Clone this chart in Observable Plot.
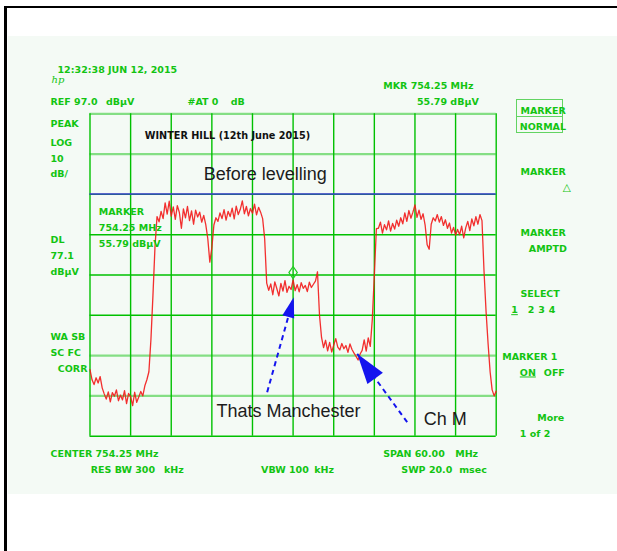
<!DOCTYPE html>
<html>
<head>
<meta charset="utf-8">
<script src="https://cdn.jsdelivr.net/npm/d3@7"></script>
<script src="https://cdn.jsdelivr.net/npm/@observablehq/plot@0.6"></script>
<style>
  html, body { margin: 0; padding: 0; background: #fff; overflow: hidden; }
  #page { position: relative; width: 617px; height: 551px; overflow: hidden; background: #fff; }
  #tint { position: absolute; left: 8px; top: 36px; width: 609px; height: 458px; background: #f4faf5; }
  #topline { position: absolute; left: 4px; top: 5.5px; width: 613px; height: 2.6px; background: #000; }
  #leftline { position: absolute; left: 4px; top: 5.5px; width: 2.7px; height: 546px; background: #000; }
  #chart { position: absolute; left: 0; top: 0; }
  #mbox { position: absolute; left: 516px; top: 99px; width: 45px; height: 31.5px; border: 1.5px solid #62d462; }
  #mbox div { position: absolute; left: 0; top: 15.5px; width: 100%; border-top: 1.5px solid #62d462; }
</style>
</head>
<body>
<div id="page">
  <div id="tint"></div>
  <div id="topline"></div>
  <div id="leftline"></div>
  <div id="mbox"><div></div></div>
  <div id="chart"></div>
</div>
<script>
// ---------------- data ----------------
const xDomainMHz = [724.25, 784.25];          // CENTER 754.25 MHz, SPAN 60 MHz
const yDomainDb = [17, 97];                   // REF 97.0 dBµV, 10 dB/div, 8 div
const gridMHz = [724.25, 730.25, 736.25, 742.25, 748.25, 754.25, 760.25, 766.25, 772.25, 778.25, 784.25];
const gridDb = [97, 87, 77, 67, 57, 47, 37, 27, 17];
const displayLineDb = 77.1;                   // DL 77.1 dBµV

// sweep: 201 points, 0.3 MHz apart, starting at 724.25 MHz
const sweepStartMHz = 724.25;
const sweepStepMHz = 0.3;
const levelDb = [
  33.5, 31.0, 29.8, 31.5, 30.2, 31.8, 29.0, 27.5,
  26.2, 28.0, 25.5, 27.8, 26.9, 28.5, 25.8, 27.2, 26.0, 28.3, 25.1, 27.6, 26.8, 24.6, 27.9, 25.4, 26.7, 28.1, 27.0, 29.5, 31.0,
  33.0, 41.0, 52.0, 64.0,
  71.5, 70.2, 72.8, 71.0, 74.9, 72.1, 75.3, 71.6, 73.9, 70.8,
  74.2, 72.5, 68.6, 73.4, 71.2, 74.0, 70.5, 72.9, 69.6, 73.1,
  71.4, 72.6, 70.1, 71.8, 69.5, 66.0, 60.2, 63.8, 69.4, 71.2,
  70.3, 72.4, 71.0, 73.2, 70.6, 72.8, 71.5, 73.6, 70.9, 74.1,
  72.0, 73.3, 75.4, 72.2, 74.0, 71.7, 73.5, 72.3, 74.6, 71.9,
  73.8, 72.6, 71.0,
  66.0, 55.0,
  53.2, 54.8, 52.1, 55.3, 53.6, 51.8, 54.9, 53.0, 55.6, 52.7,
  54.2, 53.4, 55.8, 53.1, 54.6, 52.8, 55.1, 53.7, 54.4, 52.9,
  55.2, 53.9, 54.7, 55.5, 57.8,
  47.0, 41.5,
  39.0, 40.8, 38.2, 40.3, 37.9, 39.6, 41.2, 39.1, 38.4, 40.0,
  38.7, 39.5, 37.8, 39.9, 38.5, 37.6, 36.8, 35.9, 37.4, 38.3,
  40.9, 38.1, 41.4, 39.3,
  46.0, 57.0, 68.5,
  68.6, 70.1, 67.4, 69.5, 68.2, 70.4, 67.9, 69.8, 68.4, 70.6,
  69.1, 71.2, 69.7, 72.4, 70.3, 73.0, 71.1, 72.6, 74.4, 71.3,
  73.1, 70.8, 72.2, 69.4, 64.5, 63.4, 69.6, 71.2, 70.4, 72.0,
  70.1, 71.5, 69.3, 70.7, 68.6, 69.9, 67.4, 68.8, 66.9, 68.3,
  67.0, 69.1, 66.2, 68.7, 70.3, 68.0, 70.9, 69.2, 71.5, 69.6,
  72.0, 70.5,
  58.0, 48.0, 40.0, 33.0, 28.5, 27.0, 28.2
];
const marker = { f: 754.25, db: 55.79 };

const noteTexts = ["Before levelling", "Thats Manchester", "Ch M"];
const noteMHz   = [741.06, 742.93, 773.55];
const noteDb    = [80.45, 21.73, 19.84];

const chartTitle = "WINTER HILL (12th June 2015)";
const chartTitleAt = { f: 732.34, db: 90.8 };

const markerReadout = ["MARKER", "754.25 MHz", "55.79 dBµV"];
const markerReadoutDb = [71.94, 67.87, 63.83];
const markerReadoutMHz = 725.55;

// arrows: tail (f1, db1) -> tip (f2, db2)
const arrowF1 = [750.42, 771.10];
const arrowDb1 = [27.93, 20.50];
const arrowF2 = [754.35, 763.72];
const arrowDb2 = [51.50, 37.45];

// instrument panel texts
const panelText = [
  "12:32:38 JUN 12, 2015", "MKR 754.25 MHz",
  "REF 97.0", "dBµV", "#AT 0", "dB", "55.79 dBµV",
  "PEAK", "LOG", "10", "dB/", "DL", "77.1", "dBµV", "WA SB", "SC FC", "CORR",
  "CENTER 754.25 MHz", "SPAN 60.00", "MHz",
  "RES BW 300", "kHz", "VBW 100", "kHz", "SWP 20.0", "msec",
  "MARKER", "NORMAL", "MARKER", "MARKER", "AMPTD", "SELECT",
  "1", "2", "3", "4", "MARKER 1", "ON", "OFF", "More", "1 of 2"
];

// ---------------- layout ----------------
const W = 617, H = 551, ML = 89.5, MR = 121.3, MT = 113.3, MB = 115.3;
const panelPos = [
  [57, 72.7], [382.7, 88.3],
  [50, 104.3], [105.5, 104.3], [187, 104.3], [230.3, 104.3], [416.5, 104.3],
  [50, 126], [50, 145.7], [50, 161], [50, 176.7], [50, 242.7], [50, 258.3], [50, 274.3], [50, 339], [50, 355], [57.3, 371],
  [50, 456], [382.7, 456], [454.7, 456],
  [90.2, 472], [163.4, 472], [260.6, 472], [313.8, 472], [400.8, 472], [458.7, 472],
  [520, 113.3], [519.3, 129.3], [520, 174.3], [520, 235.7], [528.3, 251.7], [520, 296.7],
  [510.7, 312.7], [527.3, 312.7], [537.7, 312.7], [548.3, 312.7], [501.7, 359], [519.3, 375], [543.3, 375], [536.7, 420], [519.3, 436]
];

const GREEN_TXT = "#12c412";
const GRID_DARK = "#00c000";
const GRID_LIGHT = "#84de84";
const BLUE = "#1414ee";
const panelFont = { fontFamily: "DejaVu Sans", fontWeight: "bold", fontSize: 9.5 };

const trace = levelDb.map((v, i) => ({ f: sweepStartMHz + i * sweepStepMHz, db: v }));
const notes = noteTexts.map((t, i) => ({ t, f: noteMHz[i], db: noteDb[i] }));
const arrows = arrowF1.map((_, i) => ({ f1: arrowF1[i], db1: arrowDb1[i], f2: arrowF2[i], db2: arrowDb2[i] }));
const readout = markerReadout.map((t, i) => ({ t, f: markerReadoutMHz, db: markerReadoutDb[i] }));

const innerW = W - ML - MR, innerH = H - MT - MB;
const kx = innerW / (xDomainMHz[1] - xDomainMHz[0]);
const ky = innerH / (yDomainDb[1] - yDomainDb[0]);
function headAngle(a) {
  const dx = (a.f2 - a.f1) * kx, dy = -(a.db2 - a.db1) * ky;
  return Math.atan2(dx, -dy) * 180 / Math.PI;
}
function headSymbol(ratio) {
  return { draw(ctx, size) {
    const k = Math.sqrt(size / Math.PI);
    ctx.moveTo(0, 0); ctx.lineTo(-ratio * k, 2 * k); ctx.lineTo(ratio * k, 2 * k); ctx.closePath();
  } };
}
const diamondSymbol = { draw(ctx) {
  ctx.moveTo(0, -1.2); ctx.lineTo(4.2, -7.3); ctx.lineTo(0, -13.4); ctx.lineTo(-4.2, -7.3); ctx.closePath();
} };

const lightDb = [97, 87, 37, 27];

const panelMarks = panelText.map((t, i) => Plot.text([t], {
  text: d => d, frameAnchor: "top-left",
  dx: panelPos[i][0] - ML, dy: panelPos[i][1] - MT,
  textAnchor: "start", lineAnchor: "bottom", fill: GREEN_TXT, ...panelFont
}));

const plot = Plot.plot({
  width: W, height: H,
  marginLeft: ML, marginRight: MR, marginTop: MT, marginBottom: MB,
  x: { domain: xDomainMHz, axis: null },
  y: { domain: yDomainDb, axis: null },
  style: { background: "transparent", overflow: "visible" },
  marks: [
    Plot.ruleY(gridDb, { stroke: d => lightDb.includes(d) ? GRID_LIGHT : GRID_DARK, strokeWidth: d => lightDb.includes(d) ? 2.2 : 1.4 }),
    Plot.ruleX(gridMHz, { stroke: GRID_DARK, strokeWidth: 1.4 }),
    Plot.ruleY([displayLineDb], { stroke: "#3838d0", strokeWidth: 1.5 }),
    Plot.line(trace, { x: "f", y: "db", stroke: "#f21818", strokeWidth: 1.3, strokeOpacity: 0.9 }),
    Plot.dot([marker], { x: "f", y: "db", symbol: diamondSymbol, r: 4, stroke: "#22cc22", strokeWidth: 1.2, fill: "none" }),
    Plot.text([chartTitle], { text: d => d, x: chartTitleAt.f, y: chartTitleAt.db, textAnchor: "start", lineAnchor: "bottom", fill: "#111", fontFamily: "DejaVu Sans", fontWeight: "bold", fontSize: 9.7 }),
    Plot.text(readout, { text: "t", x: "f", y: "db", textAnchor: "start", lineAnchor: "bottom", fill: GREEN_TXT, ...panelFont }),
    Plot.text(notes, { text: "t", x: "f", y: "db", textAnchor: "start", lineAnchor: "bottom", fill: "#1c1c1c", fontFamily: "Liberation Sans", fontSize: 18 }),
    Plot.link(arrows, { x1: "f1", y1: "db1", x2: "f2", y2: "db2", stroke: BLUE, strokeWidth: 2, strokeDasharray: "5,4" }),
    Plot.dot([arrows[0]], { x: "f2", y: "db2", r: 10.2, symbol: headSymbol(0.6), rotate: headAngle(arrows[0]), fill: BLUE }),
    Plot.dot([arrows[1]], { x: "f2", y: "db2", r: 15.2, symbol: headSymbol(0.63), rotate: headAngle(arrows[1]), fill: BLUE }),
    ...panelMarks,
    Plot.text(["hp"], { text: d => d, frameAnchor: "top-left", dx: 51 - ML, dy: 82.5 - MT, textAnchor: "start", lineAnchor: "bottom", fill: GREEN_TXT, fontFamily: "DejaVu Serif", fontStyle: "italic", fontSize: 10 }),
    Plot.text(["△"], { text: d => d, frameAnchor: "top-left", dx: 562.3 - ML, dy: 190.6 - MT, textAnchor: "start", lineAnchor: "bottom", fill: GREEN_TXT, fontFamily: "DejaVu Sans", fontSize: 10.5 })
  ]
});

// underline the selected softkey options
plot.querySelectorAll("text").forEach(el => {
  if (el.textContent === "1" || el.textContent === "ON") el.setAttribute("text-decoration", "underline");
});

document.getElementById("chart").appendChild(plot);
</script>
</body>
</html>
